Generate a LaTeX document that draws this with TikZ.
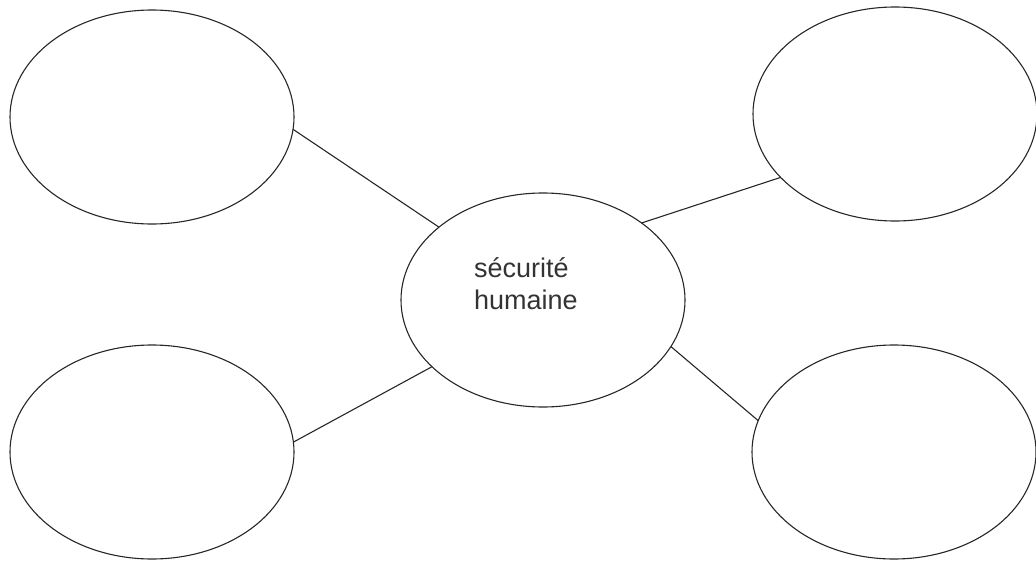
\documentclass[tikz,border=0pt]{standalone}
\usepackage{fontspec}
\setmainfont{Liberation Sans}
\usetikzlibrary{shapes.geometric}
\begin{document}
\begin{tikzpicture}[x=1pt,y=-1pt,
  bubble/.style={ellipse,draw=black!85,line width=1.1pt,minimum width=284pt,minimum height=214pt,inner sep=0pt,outer sep=0pt},
  link/.style={draw=black!85,line width=1.1pt},
  label/.style={anchor=base west,inner sep=0pt,text=black!80,font=\fontsize{27}{32}\selectfont}]
\useasboundingbox (0,0) rectangle (1036,562);
\node[bubble] (c) at (543,300) {};
\node[bubble] (tl) at (152,117) {};
\node[bubble] (tr) at (895,114) {};
\node[bubble] (bl) at (152,452) {};
\node[bubble] (br) at (894,452) {};
\node[label] (t1) at (474,277) {sécurité};
\node[label] (t2) at (474,309) {humaine};
\draw[link] (tl.-5.3) -- (c.145.7);
\draw[link] (tr.209.1) -- (c.38.1);
\draw[link] (bl.4) -- (c.211.8);
\draw[link] (br.167.5) -- (c.-20.7);
\end{tikzpicture}
\end{document}
